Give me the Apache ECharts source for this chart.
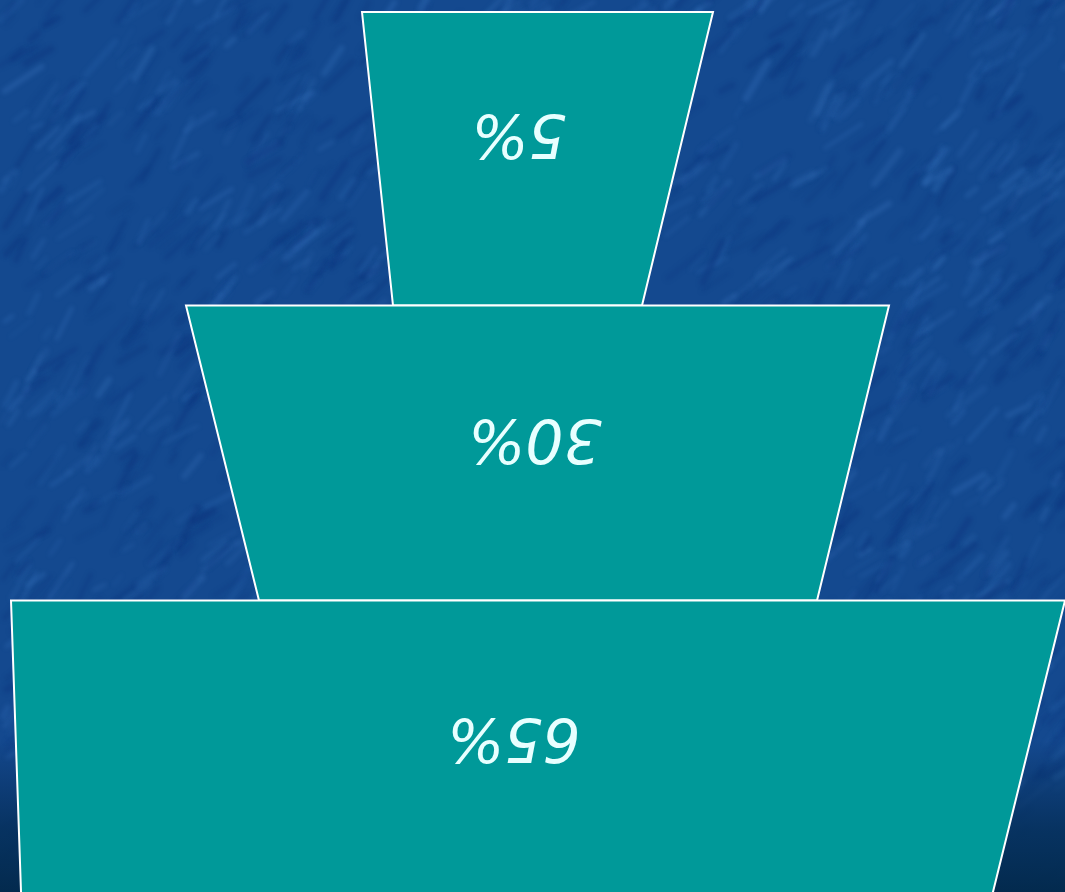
<!DOCTYPE html>
<html>
<head>
<meta charset="utf-8">
<script src="https://cdn.jsdelivr.net/npm/echarts@6/dist/echarts.min.js"></script>
<style>
html,body{margin:0;padding:0;width:1065px;height:892px;overflow:hidden;}
#bg{position:absolute;left:0;top:0;width:1065px;height:892px;}
#chart{position:absolute;left:0;top:0;width:1065px;height:892px;}
</style>
</head>
<body>
<canvas id="bg" width="1065" height="892"></canvas>
<div id="chart"></div>
<script>
// ---- data ----
const labels = ['5%', '30%', '65%'];
const values = [5, 30, 65];
// level boundaries on the vertical axis (axis units, top = 0)
const levelTop = [12, 305.5, 600.5];
const levelBottom = [305.5, 600.5, 900];
// edge positions on the horizontal axis (axis units)
const topLeft = [362, 186, 11];
const topRight = [713, 889, 1065];
const bottomLeft = [393, 259, 21.3];
const bottomRight = [642, 817, 991];
// label anchors (axis units)
const labelX = [519, 535, 514];
const labelY = [131, 436, 735];

// ---- background texture (deterministic) ----
(function(){
  const c = document.getElementById('bg');
  const g = c.getContext('2d');
  g.fillStyle = '#14498f';
  g.fillRect(0,0,1065,892);
  let s = 12345;
  function rnd(){ s = (s * 1103515245 + 12345) & 0x7fffffff; return s / 0x7fffffff; }
  g.filter = 'blur(2px)';
  g.lineCap = 'round';
  for (let i = 0; i < 2200; i++) {
    const x = rnd()*1065, y = rnd()*892;
    const len = 10 + rnd()*35;
    const ang = -0.8 + (rnd()-0.5)*0.7;
    const light = rnd() > 0.5;
    g.strokeStyle = light ? 'rgba(60,120,195,' + (0.10 + rnd()*0.2) + ')' : 'rgba(8,45,120,' + (0.12 + rnd()*0.25) + ')';
    g.lineWidth = 2 + rnd()*5;
    g.beginPath();
    g.moveTo(x, y);
    g.lineTo(x + Math.cos(ang)*len, y + Math.sin(ang)*len);
    g.stroke();
  }
  g.filter = 'none';
  const gr = g.createLinearGradient(0, 740, 0, 892);
  gr.addColorStop(0, 'rgba(4,40,80,0)');
  gr.addColorStop(0.6, 'rgba(4,45,85,0.8)');
  gr.addColorStop(1, 'rgba(3,42,78,1)');
  g.fillStyle = gr;
  g.fillRect(0, 740, 1065, 152);
})();

const seriesData = labels.map((l, i) => [levelTop[i], levelBottom[i], topLeft[i], topRight[i], bottomLeft[i], bottomRight[i], labelX[i], labelY[i], values[i]]);

const chart = echarts.init(document.getElementById('chart'), null, {renderer: 'canvas'});
chart.setOption({
  backgroundColor: 'transparent',
  animation: false,
  grid: {left: 0, right: 0, top: 0, bottom: 0},
  xAxis: {type: 'value', min: 0, max: 1065, show: false},
  yAxis: {type: 'value', min: 0, max: 892, inverse: true, show: false},
  series: [{
    type: 'custom',
    silent: true,
    clip: false,
    data: seriesData,
    renderItem: function(params, api){
      const i = params.dataIndex;
      const yt = api.value(0), yb = api.value(1);
      const p1 = api.coord([api.value(2), yt]);
      const p2 = api.coord([api.value(3), yt]);
      const p3 = api.coord([api.value(5), yb]);
      const p4 = api.coord([api.value(4), yb]);
      const lp = api.coord([api.value(6), api.value(7)]);
      return {
        type: 'group',
        children: [{
          type: 'polygon',
          shape: {points: [p1, p2, p3, p4]},
          style: {fill: '#009999', stroke: '#ffffff', lineWidth: 2}
        }, {
          type: 'text',
          x: lp[0], y: lp[1],
          rotation: Math.PI,
          style: {
            text: labels[i],
            fill: '#e8ffff',
            fontFamily: 'DejaVu Sans',
            fontStyle: 'italic',
            fontSize: 60,
            align: 'center',
            verticalAlign: 'middle'
          }
        }]
      };
    }
  }]
});
</script>
</body>
</html>
